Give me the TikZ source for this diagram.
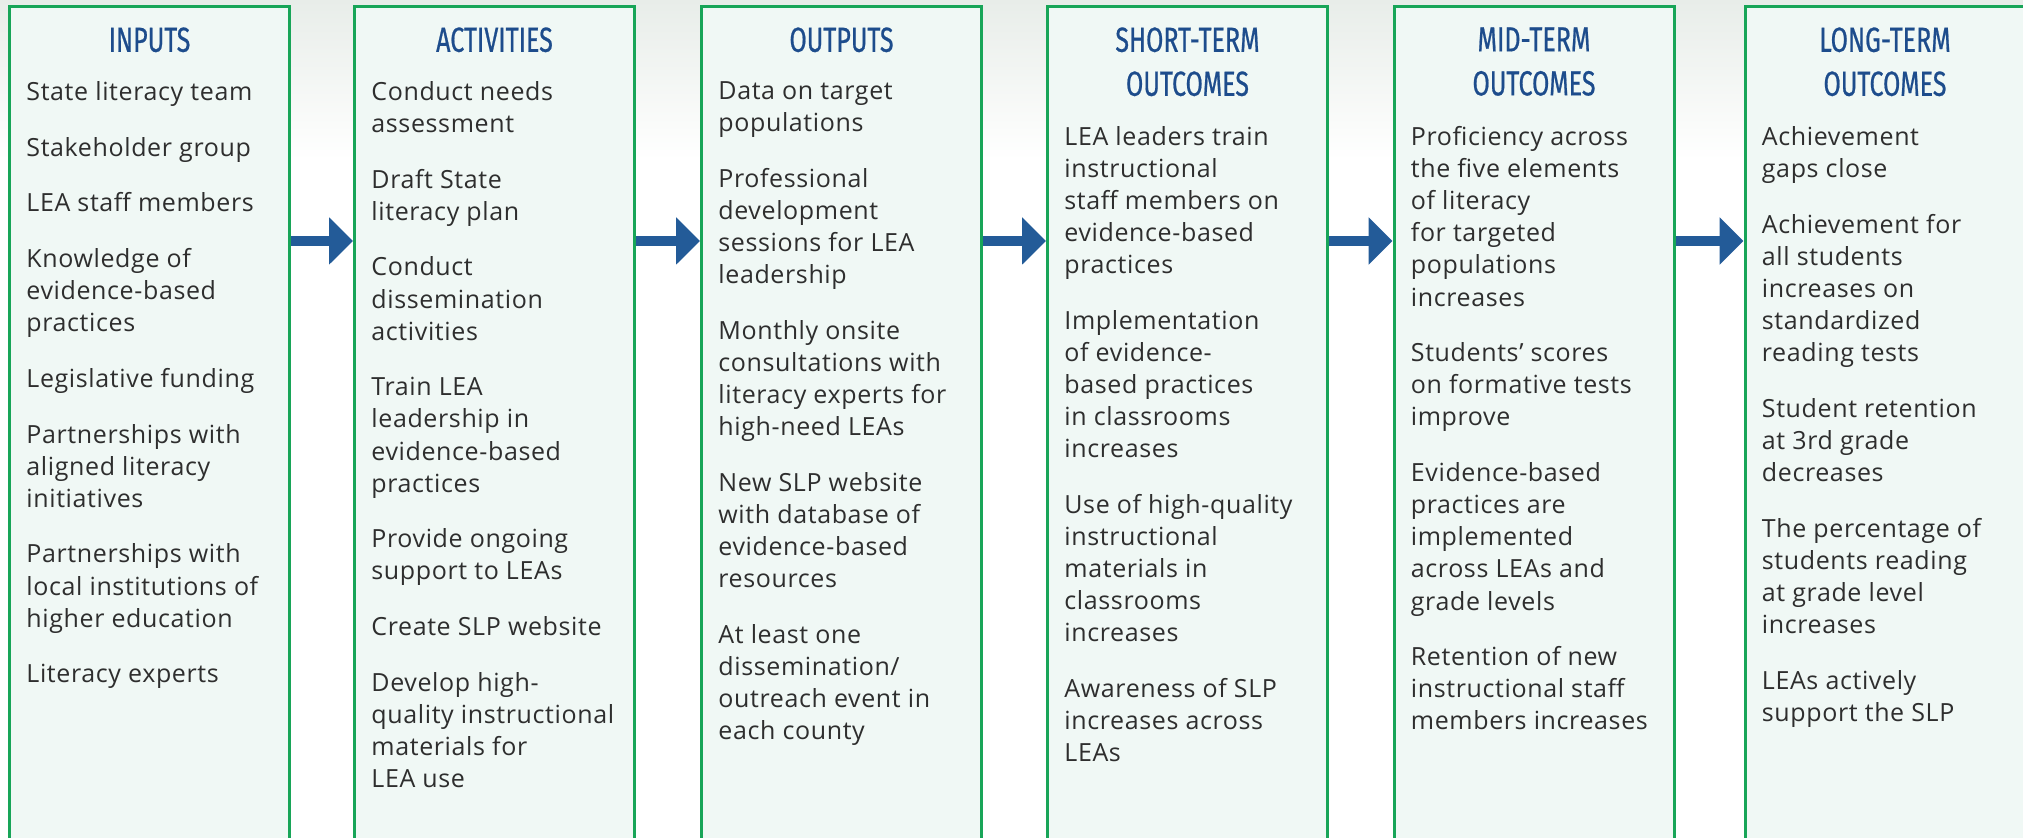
\documentclass[tikz,border=0pt]{standalone}
\usepackage{fontspec}
\setmainfont[LetterSpace=2.5]{Open Sans}
\newfontfamily\headfont[FakeStretch=0.72, FakeBold=0.6]{Fira Sans}
\usepackage{tikz}
\usetikzlibrary{arrows.meta,positioning,calc}

\definecolor{boxgreen}{HTML}{18A558}
\definecolor{boxfill}{HTML}{F0F8F5}
\definecolor{titleblue}{HTML}{1D4C8C}
\definecolor{arrowblue}{HTML}{235B98}
\definecolor{bodygrey}{HTML}{2E2E2E}
\definecolor{bgtop}{HTML}{E8EDE9}

\newcommand{\itemgap}{\\[11.8pt]}

\tikzset{
  colbox/.style={
    rectangle, draw=boxgreen, fill=boxfill, line width=1.5pt,
    minimum width=140pt, minimum height=450pt, anchor=north west,
    inner sep=0pt
  },
  coltitle/.style={
    font=\headfont\fontsize{17.4}{22}\selectfont, text=titleblue,
    align=center, anchor=north, inner sep=0pt
  },
  colbody/.style={
    font=\fontsize{12.5}{16.05}\selectfont, text=bodygrey,
    align=left, anchor=north west, inner sep=0pt
  },
  flowarrow/.style={
    line width=5pt, color=arrowblue, -{Triangle[length=12pt, width=23pt]}
  },
}

\begin{document}
\begin{tikzpicture}[x=0.5pt, y=-0.5pt]
  \useasboundingbox (0,0) rectangle (2023,838);
  \clip (0,0) rectangle (2023,838);

  %% soft band behind the top of the columns
  \shade[top color=bgtop, bottom color=white] (0,0) rectangle (2023,160);

  %% Columns
  \foreach \name/\x in {inputs/8, activities/353, outputs/700,
                        short/1046, mid/1392.5, long/1743.5} {
    \node[colbox] (\name) at (\x,5) {};
  }

  %% Headings
  \node[coltitle] (inputs-title)     at ($(inputs.north)+(0,22)$)     {INPUTS};
  \node[coltitle] (activities-title) at ($(activities.north)+(0,22)$) {ACTIVITIES};
  \node[coltitle] (outputs-title)    at ($(outputs.north)+(0,22)$)    {OUTPUTS};
  \node[coltitle] (short-title)      at ($(short.north)+(0,22)$)      {SHORT-TERM\\OUTCOMES};
  \node[coltitle] (mid-title)        at ($(mid.north)+(0,22)$)        {MID-TERM\\OUTCOMES};
  \node[coltitle] (long-title)       at ($(long.north)+(0,22)$)       {LONG-TERM\\OUTCOMES};

  %% Column contents
  \node[colbody] (inputs-body) at ($(inputs.north west)+(18,76)$) {
    State literacy team\itemgap
    Stakeholder group\itemgap
    LEA staff members\itemgap
    Knowledge of\\evidence-based\\practices\itemgap
    Legislative funding\itemgap
    Partnerships with\\aligned literacy\\initiatives\itemgap
    Partnerships with\\local institutions of\\higher education\itemgap
    Literacy experts};

  \node[colbody] (activities-body) at ($(activities.north west)+(18,76)$) {
    Conduct needs\\assessment\itemgap
    Draft State\\literacy plan\itemgap
    Conduct\\dissemination\\activities\itemgap
    Train LEA\\leadership in\\evidence-based\\practices\itemgap
    Provide ongoing\\support to LEAs\itemgap
    Create SLP website\itemgap
    Develop high-\\quality instructional\\materials for\\LEA use};

  \node[colbody] (outputs-body) at ($(outputs.north west)+(18,76)$) {
    Data on target\\populations\itemgap
    Professional\\development\\sessions for LEA\\leadership\itemgap
    Monthly onsite\\consultations with\\literacy experts for\\high-need LEAs\itemgap
    New SLP website\\with database of\\evidence-based\\resources\itemgap
    At least one\\dissemination/\\outreach event in\\each county};

  \node[colbody] (short-body) at ($(short.north west)+(18,121)$) {
    LEA leaders train\\instructional\\staff members on\\evidence-based\\practices\itemgap
    Implementation\\of evidence-\\based practices\\in classrooms\\increases\itemgap
    Use of high-quality\\instructional\\materials in\\classrooms\\increases\itemgap
    Awareness of SLP\\increases across\\LEAs};

  \node[colbody] (mid-body) at ($(mid.north west)+(18,121)$) {
    Proficiency across\\the five elements\\of literacy\\for targeted\\populations\\increases\itemgap
    Students’ scores\\on formative tests\\improve\itemgap
    Evidence-based\\practices are\\implemented\\across LEAs and\\grade levels\itemgap
    Retention of new\\instructional staff\\members increases};

  \node[colbody] (long-body) at ($(long.north west)+(18,121)$) {
    Achievement\\gaps close\itemgap
    Achievement for\\all students\\increases on\\standardized\\reading tests\itemgap
    Student retention\\at 3rd grade\\decreases\itemgap
    The percentage of\\students reading\\at grade level\\increases\itemgap
    LEAs actively\\support the SLP};

  %% Flow between columns
  \coordinate (flow) at (0,241);
  \foreach \a/\b in {inputs/activities, activities/outputs, outputs/short,
                     short/mid, mid/long} {
    \draw[flowarrow] (\a.east |- flow) -- (\b.west |- flow);
  }
\end{tikzpicture}
\end{document}
